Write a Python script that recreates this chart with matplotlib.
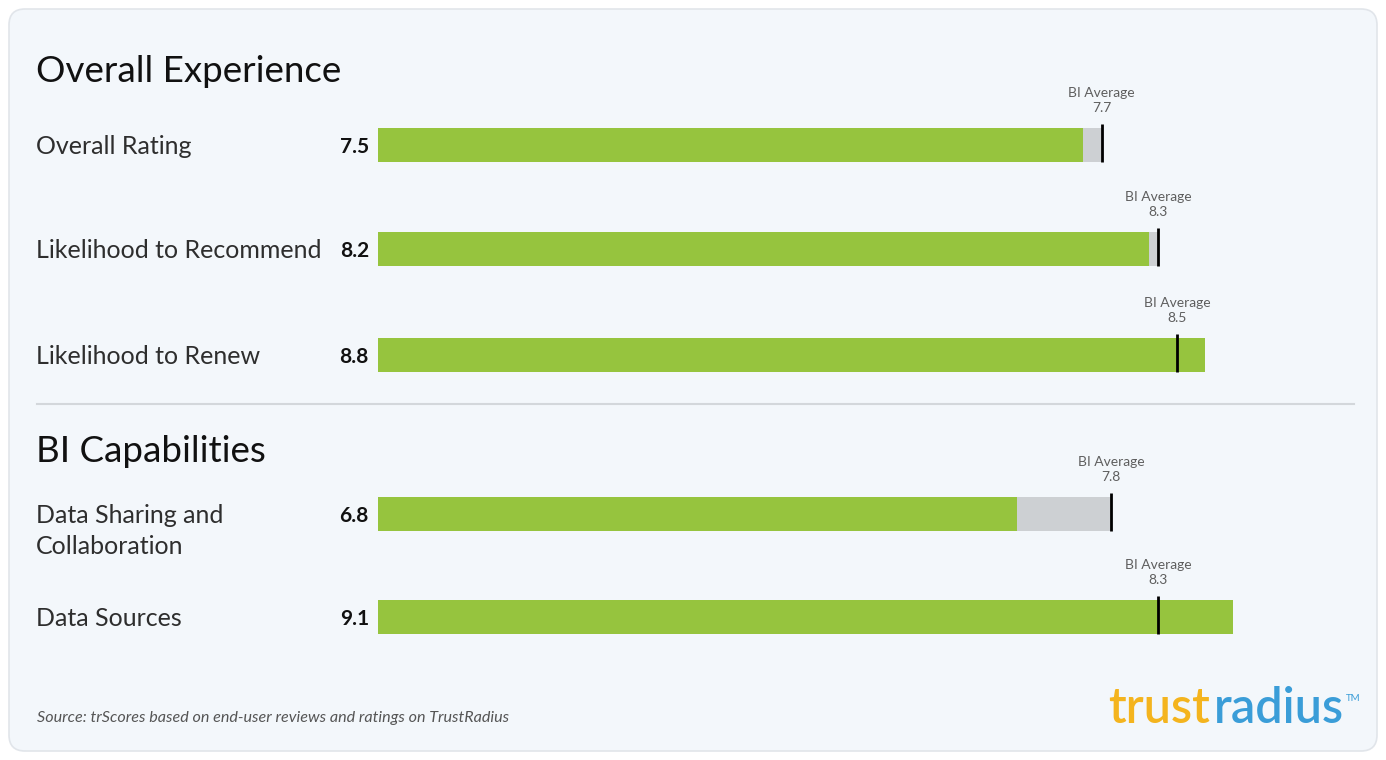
import matplotlib.pyplot as plt
import matplotlib.transforms as mtransforms
from matplotlib.patches import FancyBboxPatch

plt.rcParams['font.family'] = ['Lato', 'DejaVu Sans']

# data
metrics = ['Overall Rating', 'Likelihood to Recommend', 'Likelihood to Renew',
           'Data Sharing and\nCollaboration', 'Data Sources']
scores = [7.5, 8.2, 8.8, 6.8, 9.1]
bi_average = [7.7, 8.3, 8.5, 7.8, 8.3]
sections = ['Overall Experience', 'BI Capabilities']

# layout (pixels, top-down)
W, H = 1386, 760
row_y = [145, 249, 355, 514, 617]
section_y = [72, 452]
x0, unit = 378, 94  # bar origin and pixels per score point

GREEN = '#96c43e'
GREY = '#cdd0d3'
BG = '#f3f7fb'

fig = plt.figure(figsize=(W / 100, H / 100), dpi=100)
fig.patch.set_facecolor('white')
pix = mtransforms.Affine2D().scale(1, -1).translate(0, H).scale(1 / W, 1 / H) + fig.transFigure

# panel
fig.patches.append(FancyBboxPatch((9, 9), W - 18, H - 18,
                                  boxstyle='round,pad=0,rounding_size=16',
                                  transform=pix, facecolor=BG, edgecolor='#e1e5ea',
                                  lw=1.2, zorder=0))

ax = fig.add_axes([0, 0, 1, 1])
ax.set_zorder(2)
ax.set_xlim(-x0 / unit, (W - x0) / unit)
ax.set_ylim(H, 0)
ax.axis('off')
ax.patch.set_alpha(0)

for y, s, a in zip(row_y, scores, bi_average):
    if a > s:
        ax.barh(y, a - s, left=s, height=34, color=GREY, zorder=2)
    ax.barh(y, s, left=0, height=34, color=GREEN, zorder=3)
    ax.vlines(a, y - 21, y + 17, color='black', lw=2, zorder=4)
    ax.text(a, y - 52, 'BI Average', ha='center', va='center', fontsize=10,
            color='#5e5e5e')
    ax.text(a, y - 37, f'{a}', ha='center', va='center', fontsize=10,
            color='#5e5e5e')

for y, m, s in zip(row_y, metrics, scores):
    n = m.count('\n')
    fig.text(36, y + 2 + 15 * n, m, transform=pix, ha='left', va='center', fontsize=18,
             color='#2e2e2e', linespacing=1.44)
    fig.text(369, y + 2, f'{s}', transform=pix, ha='right', va='center', fontsize=15,
             fontweight='bold', color='#111111')

for y, t in zip(section_y, sections):
    fig.text(36, y, t, transform=pix, ha='left', va='center', fontsize=26.5, color='#111111')

# divider
fig.add_artist(plt.Line2D([37, 1354], [404, 404], transform=pix, color='#d3d7db', lw=1.5))

fig.text(37, 718, 'Source: trScores based on end-user reviews and ratings on TrustRadius',
         transform=pix, ha='left', va='center', fontsize=11.6, style='italic', color='#555555')

# logo
fig.text(1210, 723, 'trust', transform=pix, ha='right', va='baseline', fontsize=35,
         fontweight='semibold', color='#f4b41e')
fig.text(1214, 723, 'radius', transform=pix, ha='left', va='baseline', fontsize=35,
         fontweight='semibold', color='#3a9dd8')
fig.text(1346, 701, 'TM', transform=pix, ha='left', va='baseline', fontsize=7, color='#3a9dd8')

fig.savefig('out.png', dpi=100)
